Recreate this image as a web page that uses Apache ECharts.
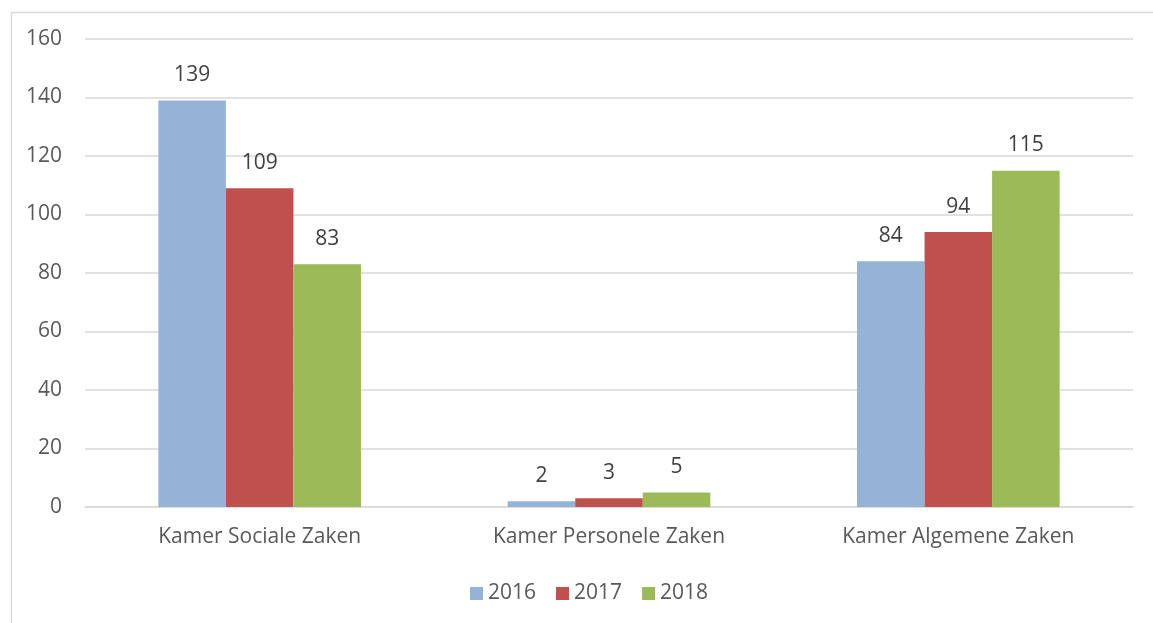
<!DOCTYPE html>
<html><head><meta charset="utf-8">
<script src="https://cdn.jsdelivr.net/npm/echarts@6/dist/echarts.min.js"></script>
<style>html,body{margin:0;padding:0;background:#fff}#c{width:1153px;height:623px}</style>
</head><body><div id="c"></div>
<script>
const categories = ['Kamer Sociale Zaken', 'Kamer Personele Zaken', 'Kamer Algemene Zaken'];
const seriesNames = ['2016', '2017', '2018'];
const values2016 = [139, 2, 84];
const values2017 = [109, 3, 94];
const values2018 = [83, 5, 115];
const colors = ['#95B3D7', '#C0504D', '#9BBB59'];
const font = '"Open Sans", Lato, sans-serif';

const chart = echarts.init(document.getElementById('c'));
const allValues = [values2016, values2017, values2018];
chart.setOption({
  animation: false,
  textStyle: { fontFamily: font },
  graphic: [{ type: 'rect', left: 9, top: 10, shape: { width: 1300, height: 700 }, style: { fill: 'none', stroke: '#D9D9D9', lineWidth: 1.5 }, silent: true }],
  grid: { left: 85, right: 20, top: 39, bottom: 116 },
  legend: {
    top: 578, left: 465, itemWidth: 13, itemHeight: 13, itemGap: 20,
    icon: 'rect',
    textStyle: { fontSize: 21, color: '#595959', fontFamily: font }
  },
  xAxis: {
    type: 'category', data: categories,
    axisLine: { lineStyle: { color: '#D9D9D9', width: 1.5 } },
    axisTick: { show: false },
    axisLabel: { fontSize: 21, color: '#595959', margin: 20, fontFamily: font }
  },
  yAxis: {
    type: 'value', min: 0, max: 160, interval: 20,
    axisLine: { show: false }, axisTick: { show: false },
    splitLine: { lineStyle: { color: '#D9D9D9', width: 1.5 } },
    axisLabel: { fontSize: 21, color: '#595959', margin: 23, fontFamily: font }
  },
  series: seriesNames.map((n, i) => ({
    name: n, type: 'bar', data: allValues[i],
    barGap: 0, barCategoryGap: '42%',
    itemStyle: { color: colors[i] },
    label: { show: true, position: 'top', distance: 15, fontSize: 21, color: '#404040', fontFamily: font }
  }))
});
</script></body></html>
